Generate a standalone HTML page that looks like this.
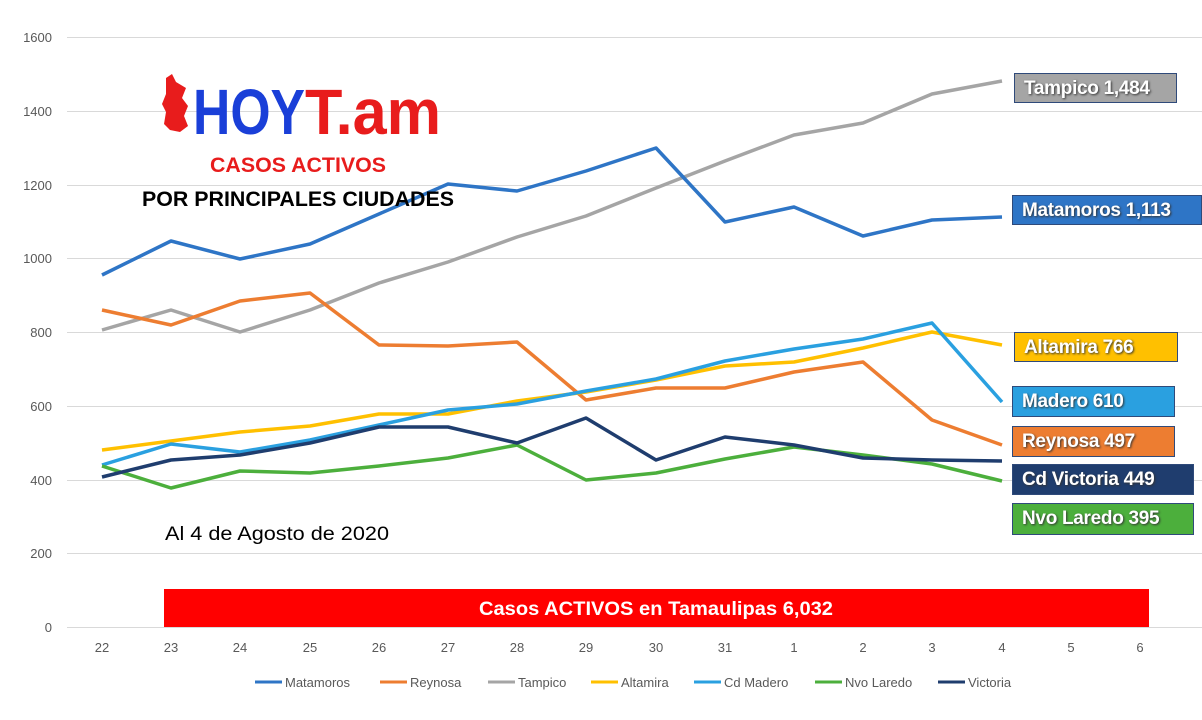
<!DOCTYPE html><html><head><meta charset="utf-8"><style>
body{margin:0;background:#fff;font-family:"Liberation Sans",sans-serif}
.lb{position:absolute;color:#fff;font-weight:bold;font-size:19px;line-height:29px;padding-left:9px;box-sizing:border-box;border:1px solid #2f4a7a;text-shadow:1px 1px 2px #333;letter-spacing:-0.3px}
</style></head><body>
<div style="position:relative;width:1202px;height:720px;overflow:hidden">
<svg width="1202" height="720" style="position:absolute;left:0;top:0" font-family="Liberation Sans,sans-serif">
<g stroke="#d9d9d9" stroke-width="1">
<line x1="67" x2="1202" y1="37.5" y2="37.5"/><line x1="67" x2="1202" y1="111.5" y2="111.5"/><line x1="67" x2="1202" y1="185.5" y2="185.5"/><line x1="67" x2="1202" y1="258.5" y2="258.5"/><line x1="67" x2="1202" y1="332.5" y2="332.5"/><line x1="67" x2="1202" y1="406.5" y2="406.5"/><line x1="67" x2="1202" y1="480.5" y2="480.5"/><line x1="67" x2="1202" y1="553.5" y2="553.5"/><line x1="67" x2="1202" y1="627.5" y2="627.5"/>
</g>
<g font-size="13" fill="#595959" text-anchor="end">
<text x="52" y="42">1600</text><text x="52" y="116">1400</text><text x="52" y="190">1200</text><text x="52" y="263">1000</text><text x="52" y="337">800</text><text x="52" y="411">600</text><text x="52" y="485">400</text><text x="52" y="558">200</text><text x="52" y="632">0</text>
</g>
<g font-size="13" fill="#595959" text-anchor="middle">
<text x="102" y="652">22</text><text x="171" y="652">23</text><text x="240" y="652">24</text><text x="310" y="652">25</text><text x="379" y="652">26</text><text x="448" y="652">27</text><text x="517" y="652">28</text><text x="586" y="652">29</text><text x="656" y="652">30</text><text x="725" y="652">31</text><text x="794" y="652">1</text><text x="863" y="652">2</text><text x="932" y="652">3</text><text x="1002" y="652">4</text><text x="1071" y="652">5</text><text x="1140" y="652">6</text>
</g>
<rect x="164" y="589" width="985" height="38" fill="#ff0000"/>
<text x="656" y="615" font-size="19" font-weight="bold" fill="#fff" text-anchor="middle" textLength="354" lengthAdjust="spacingAndGlyphs">Casos ACTIVOS en Tamaulipas 6,032</text>
<g fill="none" stroke-width="3.5" stroke-linejoin="round">
<polyline stroke="#a5a5a5" points="102,330 171,310 240,332 310,310 379,283 448,262 517,237 586,216 656,188 725,161 794,135 863,123 932,94 1002,81"/>
<polyline stroke="#2e75c6" points="102,275 171,241 240,259 310,244 379,214 448,184 517,191 586,171 656,148 725,222 794,207 863,236 932,220 1002,217"/>
<polyline stroke="#ed7d31" points="102,310 171,325 240,301 310,293 379,345 448,346 517,342 586,400 656,388 725,388 794,372 863,362 932,420 1002,445"/>
<polyline stroke="#ffc000" points="102,450 171,441 240,432 310,426 379,414 448,414 517,401 586,392 656,380 725,366 794,362 863,348 932,332 1002,345"/>
<polyline stroke="#2aa0e0" points="102,465 171,444 240,452 310,440 379,425 448,410 517,404 586,391 656,379 725,361 794,349 863,339 932,323 1002,402"/>
<polyline stroke="#4caf3c" points="102,466 171,488 240,471 310,473 379,466 448,458 517,445 586,480 656,473 725,459 794,447 863,455 932,464 1002,481"/>
<polyline stroke="#1f3d6e" points="102,477 171,460 240,455 310,443 379,427 448,427 517,443 586,418 656,460 725,437 794,445 863,458 932,460 1002,461"/>
</g>
<g font-size="13" fill="#595959">
<line x1="255" x2="282" y1="682" y2="682" stroke="#2e75c6" stroke-width="3"/><text x="285" y="687">Matamoros</text>
<line x1="380" x2="407" y1="682" y2="682" stroke="#ed7d31" stroke-width="3"/><text x="410" y="687">Reynosa</text>
<line x1="488" x2="515" y1="682" y2="682" stroke="#a5a5a5" stroke-width="3"/><text x="518" y="687">Tampico</text>
<line x1="591" x2="618" y1="682" y2="682" stroke="#ffc000" stroke-width="3"/><text x="621" y="687">Altamira</text>
<line x1="694" x2="721" y1="682" y2="682" stroke="#2aa0e0" stroke-width="3"/><text x="724" y="687">Cd Madero</text>
<line x1="815" x2="842" y1="682" y2="682" stroke="#4caf3c" stroke-width="3"/><text x="845" y="687">Nvo Laredo</text>
<line x1="938" x2="965" y1="682" y2="682" stroke="#1f3d6e" stroke-width="3"/><text x="968" y="687">Victoria</text>
</g>
<text x="165" y="540" font-size="19" fill="#000" textLength="224" lengthAdjust="spacingAndGlyphs">Al 4 de Agosto de 2020</text>
<path d="M166,78 l6,-4 l4,8 l10,6 l-4,10 l6,8 l-4,10 l4,10 l-8,6 l-10,-2 l-6,-6 l2,-12 l-4,-8 l4,-10 z" fill="#e81c1c"/>
<text x="193" y="134" font-size="64" font-weight="bold" fill="#1a3fd8" textLength="112" lengthAdjust="spacingAndGlyphs">HOY</text>
<text x="305" y="134" font-size="64" font-weight="bold" fill="#e81c1c" textLength="136" lengthAdjust="spacingAndGlyphs">T.am</text>
<text x="298" y="172" font-size="21" font-weight="bold" fill="#e81c1c" text-anchor="middle" textLength="176" lengthAdjust="spacingAndGlyphs">CASOS ACTIVOS</text>
<text x="298" y="206" font-size="21" font-weight="bold" fill="#000" text-anchor="middle" textLength="312" lengthAdjust="spacingAndGlyphs">POR PRINCIPALES CIUDADES</text>
</svg>
<div class="lb" style="left:1014px;top:73px;width:163px;height:30px;background:#a5a5a5">Tampico 1,484</div>
<div class="lb" style="left:1012px;top:195px;width:190px;height:30px;background:#2e75c6">Matamoros 1,113</div>
<div class="lb" style="left:1014px;top:332px;width:164px;height:30px;background:#ffc000">Altamira 766</div>
<div class="lb" style="left:1012px;top:386px;width:163px;height:31px;background:#2aa0e0">Madero 610</div>
<div class="lb" style="left:1012px;top:426px;width:163px;height:31px;background:#ed7d31">Reynosa 497</div>
<div class="lb" style="left:1012px;top:464px;width:182px;height:31px;background:#1f3d6e">Cd Victoria 449</div>
<div class="lb" style="left:1012px;top:503px;width:182px;height:32px;background:#4caf3c">Nvo Laredo 395</div>
</div>
</body></html>
